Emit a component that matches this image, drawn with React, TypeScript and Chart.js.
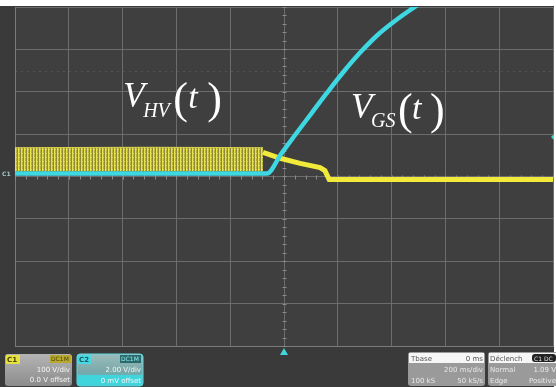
import React, { useEffect, useRef } from "react";
import { Chart, registerables } from "chart.js";
Chart.register(...registerables);

// Axes in screen divisions (time: 200 ms/div, 10 div; voltage: 8 div)
const X_MIN = -5;
const X_MAX = 5;
const Y_MIN = -4;
const Y_MAX = 4;

// V_GS(t) trace (cyan, C2)
const cyanX = [-5, -2.5, -0.32, -0.05, 0.23, 0.51, 0.79, 1.1, 1.42, 1.74, 2.03, 2.43, 2.78];
const cyanY = [0.07, 0.07, 0.07, 0.54, 1.02, 1.49, 1.96, 2.46, 2.93, 3.34, 3.64, 4.0, 4.28];

// V_HV(t) trace (yellow, C1) after switching
const yellowX = [-0.39, -0.07, 0.3, 0.67, 0.76, 0.84, 5];
const yellowY = [0.57, 0.43, 0.31, 0.21, 0.14, -0.07, -0.07];

// V_HV(t) oscillating band envelope before switching
const bandX = [-5, -2.5, -0.39];
const bandTop = [0.68, 0.69, 0.68];
const bandBottom = [0.12, 0.12, 0.12];

// Label anchors (divisions)
const labels = [
  { x: -2.99, y: 1.63, sub: "HV", offs: [20, 10, 50, 65, 84] },
  { x: 1.245, y: 1.38, sub: "GS", offs: [20, 9, 47, 61, 79] },
];

function makePattern(): CanvasPattern | string {
  const c = document.createElement("canvas");
  c.width = 3;
  c.height = 4;
  const g = c.getContext("2d");
  if (!g) return "#c8c040";
  const cols = ["#e8e250", "#b4ae3e", "#8e8a38"];
  cols.forEach((col, i) => {
    g.fillStyle = col;
    g.fillRect(i, 0, 1, 4);
  });
  g.fillStyle = "rgba(255,250,120,0.5)";
  g.fillRect(1, 1, 1, 1);
  return g.createPattern(c, "repeat") || "#c8c040";
}

function rr(ctx: CanvasRenderingContext2D, x: number, y: number, w: number, h: number, r: number) {
  ctx.beginPath();
  ctx.moveTo(x + r, y);
  ctx.lineTo(x + w - r, y);
  ctx.quadraticCurveTo(x + w, y, x + w, y + r);
  ctx.lineTo(x + w, y + h - r);
  ctx.quadraticCurveTo(x + w, y + h, x + w - r, y + h);
  ctx.lineTo(x + r, y + h);
  ctx.quadraticCurveTo(x, y + h, x, y + h - r);
  ctx.lineTo(x, y + r);
  ctx.quadraticCurveTo(x, y, x + r, y);
  ctx.closePath();
}

const bgPlugin = {
  id: "scopeBg",
  beforeDraw(chart: any) {
    const ctx = chart.ctx as CanvasRenderingContext2D;
    const { width, height } = chart;
    ctx.save();
    ctx.fillStyle = "#3a3a3a";
    ctx.fillRect(0, 0, width, height);
    const a = chart.chartArea;
    ctx.fillStyle = "#3f3f3f";
    ctx.fillRect(a.left, a.top, a.right - a.left, a.bottom - a.top);
    ctx.fillStyle = "#ffffff";
    ctx.fillRect(0, 0, width, 6);
    ctx.fillRect(width - 2, 0, 2, height);
    ctx.restore();
  },
  beforeDatasetsDraw(chart: any) {
    const ctx = chart.ctx as CanvasRenderingContext2D;
    const xs = chart.scales.x;
    const ys = chart.scales.y;
    const cx = Math.round(xs.getPixelForValue(0)) + 0.5;
    const cy = Math.round(ys.getPixelForValue(0)) + 0.5;
    const a = chart.chartArea;
    ctx.save();
    ctx.strokeStyle = "#8a8a8a";
    ctx.lineWidth = 1;
    // minor ticks on center axes
    for (let v = X_MIN; v <= X_MAX + 1e-6; v += 0.2) {
      const px = Math.round(xs.getPixelForValue(v)) + 0.5;
      ctx.beginPath();
      ctx.moveTo(px, cy - 2);
      ctx.lineTo(px, cy + 2);
      ctx.stroke();
    }
    for (let v = Y_MIN; v <= Y_MAX + 1e-6; v += 0.2) {
      const py = Math.round(ys.getPixelForValue(v)) + 0.5;
      ctx.beginPath();
      ctx.moveTo(cx - 2, py);
      ctx.lineTo(cx + 2, py);
      ctx.stroke();
    }
    // faint dotted cursor line
    ctx.strokeStyle = "rgba(150,150,150,0.22)";
    ctx.setLineDash([2, 4]);
    const dy = Math.round(ys.getPixelForValue(2.5)) + 0.5;
    ctx.beginPath();
    ctx.moveTo(a.left, dy);
    ctx.lineTo(a.right, dy);
    ctx.stroke();
    ctx.restore();
  },
  afterDatasetsDraw(chart: any) {
    const ctx = chart.ctx as CanvasRenderingContext2D;
    const xs = chart.scales.x;
    const ys = chart.scales.y;
    ctx.save();
    ctx.fillStyle = "#ffffff";
    ctx.textAlign = "left";
    ctx.textBaseline = "alphabetic";
    labels.forEach((l) => {
      const px = xs.getPixelForValue(l.x);
      const py = ys.getPixelForValue(l.y);
      const [sx, sy, p1, tx, p2] = l.offs;
      ctx.font = 'italic 35px "Liberation Serif"';
      ctx.fillText("V", px, py);
      ctx.font = 'italic 20px "Liberation Serif"';
      ctx.fillText(l.sub, px + sx, py + sy);
      ctx.font = '44px "Liberation Serif"';
      ctx.fillText("(", px + p1, py + 6);
      ctx.font = 'italic 34px "Liberation Serif"';
      ctx.fillText("t", px + tx, py + 1);
      ctx.font = '44px "Liberation Serif"';
      ctx.fillText(")", px + p2, py + 6);
    });
    ctx.restore();
  },
  afterDraw(chart: any) {
    const ctx = chart.ctx as CanvasRenderingContext2D;
    const xs = chart.scales.x;
    const ys = chart.scales.y;
    const a = chart.chartArea;
    ctx.save();
    // trigger marker at bottom
    const tx = xs.getPixelForValue(0);
    ctx.fillStyle = "#40d8e0";
    ctx.beginPath();
    ctx.moveTo(tx - 4, a.bottom + 9);
    ctx.lineTo(tx + 4, a.bottom + 9);
    ctx.lineTo(tx, a.bottom + 2);
    ctx.closePath();
    ctx.fill();
    // right marker
    const ry = ys.getPixelForValue(0.93);
    ctx.beginPath();
    ctx.moveTo(a.right + 1, ry - 3);
    ctx.lineTo(a.right - 2, ry);
    ctx.lineTo(a.right + 1, ry + 3);
    ctx.closePath();
    ctx.fill();
    // left channel marker
    ctx.font = 'bold 6px "DejaVu Sans"';
    ctx.fillStyle = "#9ec8c8";
    ctx.textBaseline = "middle";
    ctx.fillText("C1", 2, ys.getPixelForValue(0.05));

    ctx.textBaseline = "alphabetic";
    const small = '7px "DejaVu Sans"';
    // C1 box
    rr(ctx, 5, 354, 67, 32, 3);
    let g = ctx.createLinearGradient(0, 354, 0, 386);
    g.addColorStop(0, "#b4b4b4");
    g.addColorStop(1, "#8c8c8c");
    ctx.fillStyle = g;
    ctx.fill();
    ctx.fillStyle = "#e6e040";
    ctx.fillRect(6, 355, 14, 9);
    ctx.fillStyle = "#b8a830";
    ctx.fillRect(50, 355, 21, 8);
    ctx.font = 'bold 7px "DejaVu Sans"';
    ctx.fillStyle = "#4a4400";
    ctx.fillText("C1", 7, 362);
    ctx.font = '6px "DejaVu Sans"';
    ctx.fillText("DC1M", 51, 361);
    ctx.font = small;
    ctx.fillStyle = "#f4f4f4";
    ctx.textAlign = "right";
    ctx.fillText("100 V/div", 70, 372);
    ctx.fillText("0.0 V offset", 70, 382);
    ctx.textAlign = "left";

    // C2 box
    rr(ctx, 77, 354, 66, 32, 3);
    g = ctx.createLinearGradient(0, 354, 0, 386);
    g.addColorStop(0, "#9cbcbc");
    g.addColorStop(0.55, "#7aa8aa");
    g.addColorStop(1, "#3cc8d0");
    ctx.fillStyle = g;
    ctx.fill();
    ctx.strokeStyle = "#60d8e0";
    ctx.lineWidth = 1;
    ctx.stroke();
    ctx.fillStyle = "#48d8e4";
    ctx.fillRect(78, 355, 13, 9);
    ctx.fillStyle = "#2a6a6c";
    ctx.fillRect(120, 355, 21, 8);
    ctx.fillStyle = "#40d4dc";
    ctx.fillRect(78, 375, 64, 10);
    ctx.font = 'bold 7px "DejaVu Sans"';
    ctx.fillStyle = "#1a5a60";
    ctx.fillText("C2", 79, 362);
    ctx.font = '6px "DejaVu Sans"';
    ctx.fillStyle = "#90e8ec";
    ctx.fillText("DC1M", 121, 361);
    ctx.font = small;
    ctx.fillStyle = "#f4f4f4";
    ctx.textAlign = "right";
    ctx.fillText("2.00 V/div", 141, 372);
    ctx.fillText("0 mV offset", 141, 383);
    ctx.textAlign = "left";

    // Tbase box
    rr(ctx, 408, 352, 77, 34, 3);
    ctx.fillStyle = "#9a9a9a";
    ctx.fill();
    ctx.fillStyle = "#f6f6f6";
    ctx.fillRect(409, 353, 75, 10);
    ctx.font = small;
    ctx.fillStyle = "#555555";
    ctx.fillText("Tbase", 411, 361);
    ctx.textAlign = "right";
    ctx.fillText("0 ms", 483, 361);
    ctx.fillStyle = "#e8e8e8";
    ctx.fillText("200 ms/div", 483, 372);
    ctx.fillText("50 kS/s", 483, 383);
    ctx.textAlign = "left";
    ctx.fillText("100 kS", 411, 383);

    // Declench box
    rr(ctx, 488, 352, 70, 34, 3);
    ctx.fillStyle = "#9a9a9a";
    ctx.fill();
    ctx.fillStyle = "#f6f6f6";
    ctx.fillRect(489, 353, 67, 10);
    ctx.fillStyle = "#222222";
    rr(ctx, 532, 354, 24, 8, 3);
    ctx.fill();
    ctx.font = small;
    ctx.fillStyle = "#555555";
    ctx.fillText("Déclench", 490, 361);
    ctx.font = '6px "DejaVu Sans"';
    ctx.fillStyle = "#e0e0e0";
    ctx.fillText("C1 DC", 534, 361);
    ctx.font = small;
    ctx.fillStyle = "#e8e8e8";
    ctx.fillText("Normal", 490, 372);
    ctx.fillText("Edge", 490, 383);
    ctx.textAlign = "right";
    ctx.fillText("1.09 V", 556, 372);
    ctx.fillText("Positive", 556, 383);
    ctx.restore();
  },
};

export default function App() {
  const ref = useRef<HTMLCanvasElement | null>(null);
  useEffect(() => {
    if (!ref.current) return;
    const pattern = makePattern();
    const toPts = (xs: number[], ys: number[]) => xs.map((x, i) => ({ x, y: ys[i] }));
    const chart = new Chart(ref.current, {
      type: "line",
      data: {
        datasets: [
          {
            label: "V_GS(t)",
            data: toPts(cyanX, cyanY),
            borderColor: "#3ed8e2",
            borderWidth: 4.5,
            cubicInterpolationMode: "monotone",
            fill: false,
            clip: 0,
            borderCapStyle: "round",
          } as any,
          {
            label: "V_HV(t)",
            data: toPts(yellowX, yellowY),
            borderColor: "#f2ea3a",
            borderWidth: 5,
            tension: 0,
            fill: false,
            clip: 0,
          },
          {
            label: "V_HV band top",
            data: toPts(bandX, bandTop),
            borderColor: "rgba(240,232,80,0.8)",
            borderWidth: 1,
            tension: 0,
            fill: false,
          },
          {
            label: "V_HV band bottom",
            data: toPts(bandX, bandBottom),
            borderColor: "rgba(0,0,0,0)",
            borderWidth: 0,
            backgroundColor: pattern as any,
            tension: 0,
            fill: "-1",
          },
        ],
      },
      options: {
        animation: false,
        responsive: false,
        devicePixelRatio: 1,
        layout: { padding: { left: 15, right: 3, top: 7, bottom: 41 } },
        plugins: {
          legend: { display: false },
          tooltip: { enabled: false },
          title: { display: false },
        },
        elements: { point: { radius: 0 } },
        scales: {
          x: {
            type: "linear",
            min: X_MIN,
            max: X_MAX,
            ticks: { display: false, stepSize: 1 },
            grid: { color: "#6c6c6c", drawTicks: false, lineWidth: 1 },
            border: { display: true, color: "#7a7a7a" },
          },
          y: {
            type: "linear",
            min: Y_MIN,
            max: Y_MAX,
            ticks: { display: false, stepSize: 1 },
            grid: { color: "#6c6c6c", drawTicks: false, lineWidth: 1 },
            border: { display: true, color: "#7a7a7a" },
          },
        },
      },
      plugins: [bgPlugin],
    });
    return () => chart.destroy();
  }, []);
  return (
    <div style={{ position: "fixed", left: 0, top: 0, width: 556, height: 387 }}>
      <canvas ref={ref} width={556} height={387} style={{ display: "block" }} />
    </div>
  );
}
